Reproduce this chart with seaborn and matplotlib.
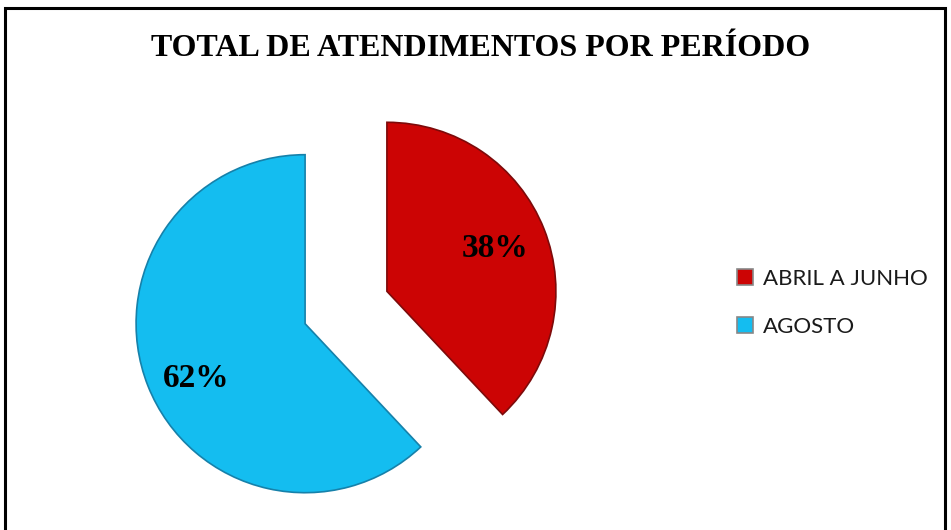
"""Pie chart: total de atendimentos por periodo."""

import matplotlib
matplotlib.use("Agg")
import matplotlib.pyplot as plt
from matplotlib.patches import Rectangle
import seaborn as sns

sns.set_theme(style="white")

# data
periodos = ["ABRIL A JUNHO", "AGOSTO"]
percentuais = [38, 62]
cores = ["#CC0404", "#14BDF0"]
bordas = ["#7d0a0a", "#1681aa"]
titulo = "TOTAL DE ATENDIMENTOS POR PERÍODO"

W, H = 951, 530
fig = plt.figure(figsize=(W / 100, H / 100), dpi=100)
ax = fig.add_axes([0, 0, 1, 1])

# explode is in data units here (pixels), not a fraction of the radius
wedges, texts, autotexts = ax.pie(
    percentuais,
    colors=cores,
    startangle=90,
    counterclock=False,
    explode=[44, 44],
    radius=169,
    center=(346, H - 307.5),
    autopct="%1.0f%%",
    pctdistance=0.69,
    frame=False,
    wedgeprops=dict(linewidth=1.2),
    textprops=dict(family=["Liberation Serif", "DejaVu Serif"],
                   fontweight="bold", fontsize=24, color="black"),
)
for w, c in zip(wedges, bordas):
    w.set_edgecolor(c)
# nudge the 62% label a bit lower, as in the original
px, py = autotexts[1].get_position()
autotexts[1].set_position((px, py - 12))

ax.set_xlim(0, W)
ax.set_ylim(0, H)
ax.set_aspect("equal")
ax.axis("off")

# title
fig.text(481 / W, 1 - 48 / H, titulo, ha="center", va="center",
         family=["Liberation Serif", "DejaVu Serif"], fontweight="bold",
         fontsize=23, color="black")

# legend
leg = fig.legend(wedges, periodos, loc="upper left",
                 bbox_to_anchor=(717 / W, 1 - 249 / H),
                 frameon=False, handlelength=0.7, handleheight=0.7,
                 handletextpad=0.45, labelspacing=1.25,
                 prop=dict(family=["Lato", "DejaVu Sans"], size=16))
for t in leg.get_texts():
    t.set_color("#1a1a1a")
for h in leg.legend_handles:
    h.set_edgecolor("#888888")

# outer border of the chart area
fig.add_artist(Rectangle((5 / W, -0.05), 940 / W, 1.05 - 8 / H,
                         transform=fig.transFigure, fill=False,
                         edgecolor="black", linewidth=2.2))

fig.savefig("out.png", dpi=100)
